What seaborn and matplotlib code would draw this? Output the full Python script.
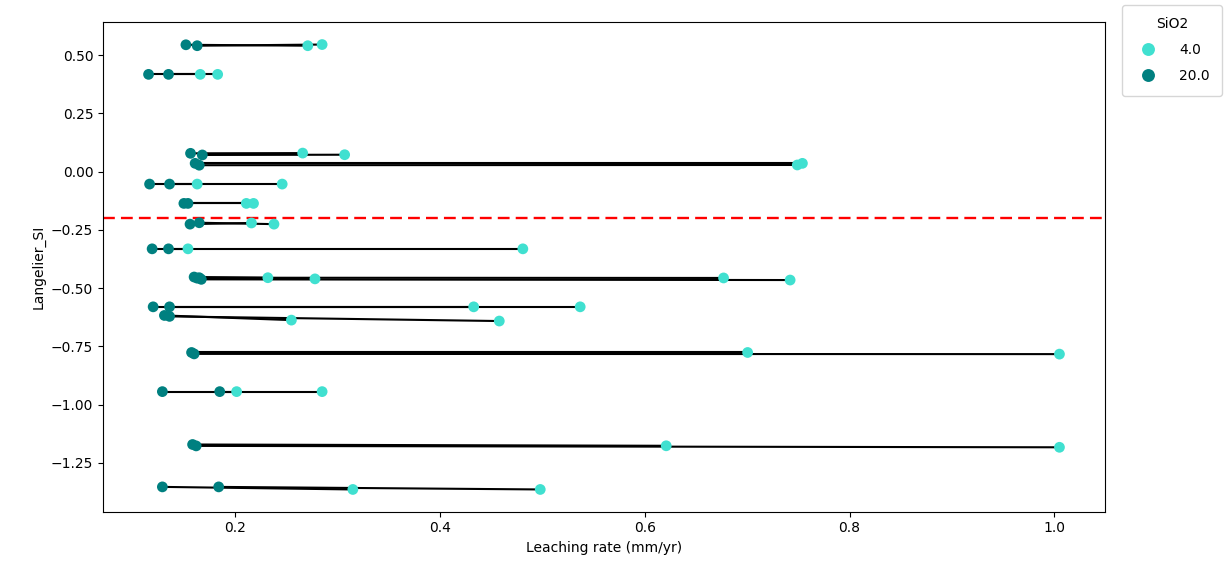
import numpy as np
import pandas as pd
import matplotlib
matplotlib.use("Agg")
import matplotlib.pyplot as plt
import seaborn as sns

# Each pair: one run at SiO2 = 20.0 and the matching run at SiO2 = 4.0
lsi_20 = [0.545, 0.541, 0.418, 0.418, 0.079, 0.072, 0.036, 0.028,
          -0.053, -0.053, -0.136, -0.136, -0.225, -0.219, -0.331, -0.331,
          -0.452, -0.457, -0.455, -0.462, -0.580, -0.580, -0.617, -0.621,
          -0.776, -0.782, -0.944, -0.944, -1.171, -1.177, -1.353, -1.353]
leach_20 = [0.152, 0.163, 0.1155, 0.135, 0.1565, 0.168, 0.161, 0.165,
            0.1165, 0.136, 0.150, 0.154, 0.156, 0.165, 0.119, 0.135,
            0.160, 0.163, 0.165, 0.167, 0.120, 0.136, 0.131, 0.136,
            0.1575, 0.160, 0.129, 0.185, 0.1585, 0.162, 0.129, 0.184]
lsi_4 = [0.541, 0.546, 0.418, 0.418, 0.080, 0.073, 0.036, 0.029,
         -0.053, -0.053, -0.136, -0.136, -0.220, -0.225, -0.331, -0.331,
         -0.455, -0.460, -0.456, -0.465, -0.580, -0.580, -0.637, -0.641,
         -0.776, -0.783, -0.944, -0.944, -1.1765, -1.183, -1.364, -1.364]
leach_4 = [0.271, 0.285, 0.166, 0.183, 0.266, 0.307, 0.754, 0.749,
           0.163, 0.246, 0.211, 0.218, 0.216, 0.238, 0.154, 0.481,
           0.232, 0.278, 0.677, 0.742, 0.433, 0.537, 0.255, 0.458,
           0.7005, 1.005, 0.2015, 0.285, 0.621, 1.005, 0.315, 0.498]

n = len(lsi_20)
df = pd.DataFrame({
    "group": list(range(n)) * 2,
    "SiO2": [20.0] * n + [4.0] * n,
    "Leaching rate (mm/yr)": leach_20 + leach_4,
    "Langelier_SI": lsi_20 + lsi_4,
})

fig = plt.figure(figsize=(12.27, 5.72), dpi=100)
ax = fig.add_axes([103 / 1227, 1 - 511.7 / 572, (1105 - 103) / 1227, (511.7 - 22.3) / 572])

sns.lineplot(data=df, x="Leaching rate (mm/yr)", y="Langelier_SI", units="group",
             estimator=None, sort=False, color="black", linewidth=1.5,
             legend=False, ax=ax)
sns.scatterplot(data=df, x="Leaching rate (mm/yr)", y="Langelier_SI", hue="SiO2",
                hue_order=[4.0, 20.0], palette={4.0: "turquoise", 20.0: "teal"},
                s=60, linewidth=0, ax=ax, zorder=3)
ax.axhline(-0.2, color="red", linestyle=(0, (5, 2.6)), linewidth=1.7)

leg = ax.legend(title="SiO2", loc="upper left", bbox_to_anchor=(1122 / 1227, 1 - 5 / 572),
                bbox_transform=fig.transFigure, borderaxespad=0, borderpad=0.9,
                labelspacing=0.85, handletextpad=1.2, markerscale=1.2)

fig.savefig("out.png", dpi=100)
